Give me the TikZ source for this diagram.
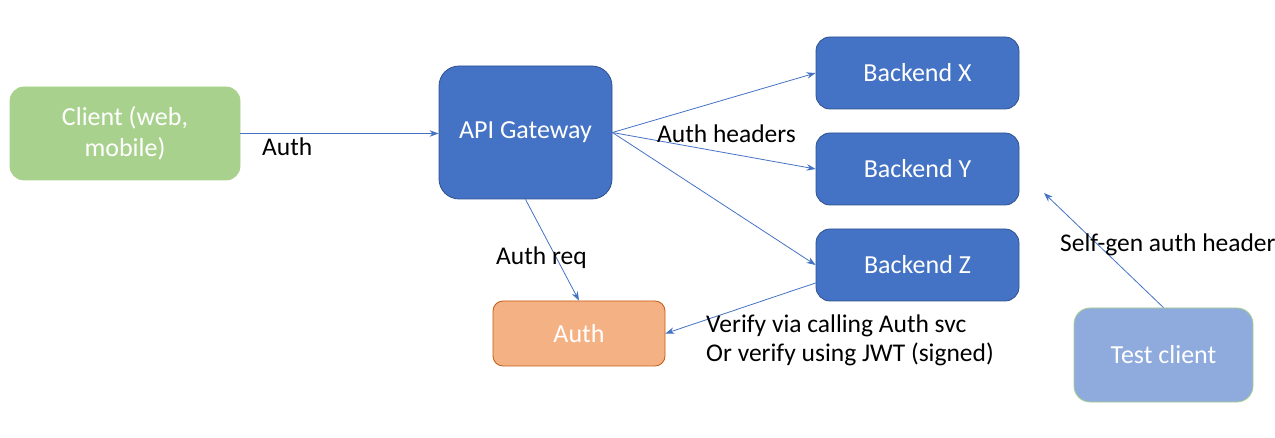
\documentclass[tikz,border=0pt]{standalone}
\usepackage{fontspec}
\setmainfont{Carlito}
\usepackage{tikz}
\usetikzlibrary{positioning,arrows.meta}
\definecolor{gwblue}{HTML}{4472C4}
\definecolor{gwedge}{HTML}{2F528F}
\definecolor{clientgreen}{HTML}{A9D18E}
\definecolor{authorange}{HTML}{F4B183}
\definecolor{authedge}{HTML}{C55A11}
\definecolor{testblue}{HTML}{8FAADC}

\begin{document}
\begin{tikzpicture}[x=1pt,y=-1pt,
  box/.style={rounded corners=14pt, text=white, align=center, inner sep=0pt, line width=0.8pt, font=\fontsize{26}{31}\selectfont},
  svc/.style={box, fill=gwblue, draw=gwedge, minimum width=203pt, minimum height=72pt},
  link/.style={draw, color=gwblue, line width=0.8pt, -{Stealth[length=9pt,width=6.5pt]}},
  lbl/.style={anchor=west, inner sep=0pt, align=left, font=\fontsize{25.5}{29}\selectfont}]
\useasboundingbox (0,0) rectangle (1275,438);
\node[box, fill=clientgreen, draw=clientgreen, minimum width=230pt, minimum height=93pt] (client) at (125,133.5) {Client (web,\\mobile)};
\node[box, fill=gwblue, draw=gwedge, rounded corners=20pt, minimum width=173pt, minimum height=133pt] (gw) at (525.5,132.5) {API Gateway};
\node[svc] (bx) at (917.5,73) {Backend X};
\node[svc] (by) at (917.5,169) {Backend Y};
\node[svc] (bz) at (917.5,265) {Backend Z};
\node[box, fill=authorange, draw=authedge, rounded corners=10pt, minimum width=172pt, minimum height=65pt] (auth) at (579,333.5) {Auth};
\node[box, fill=testblue, draw=clientgreen, rounded corners=16pt, minimum width=179pt, minimum height=94pt] (test) at (1163.5,355) {Test client};
\coordinate (selfgen) at (1044,193);
% connectors
\path [link] (client.east) -- (client.east -| gw.west);
\path [link] (gw.east) -- (bx.west);
\path [link] (gw.east) -- (by.west);
\path [link] (gw.east) -- (bz.west);
\path [link] (gw.south) -- (auth.north);
\path [link] (bz.190) -- (auth.east);
\path [link] (test.north) -- (selfgen);
% labels
\node[lbl] (lauth) at (262,147) {Auth};
\node[lbl] (lheaders) at (657,134) {Auth headers};
\node[lbl] (lreq) at (496,258) {Auth req};
\node[lbl] (lverify) at (706,340.5) {Verify via calling Auth svc\\Or verify using JWT (signed)};
\node[lbl] (lselfgen) at (1060,245) {Self-gen auth header};
\end{tikzpicture}
\end{document}
